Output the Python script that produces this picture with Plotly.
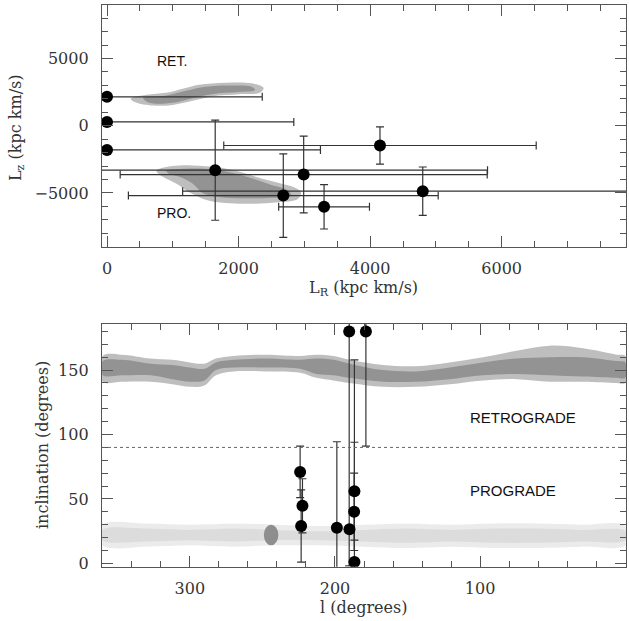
import plotly.graph_objects as go

# ---------------- top panel: (L_R, L_z) ----------------
sat_LR = [0, 0, 0, 1645, 2990, 2680, 4150, 4800, 3300]
sat_Lz = [2150, 280, -1800, -3310, -3630, -5195, -1470, -4870, -6030]
sat_LR_err = [2360, 2840, 3245, 4140, 2790, 2355, 2375, 3650, 690]
sat_Lz_err = [0, 0, 0, 3720, 2850, 3105, 1380, 1800, 1650]

# simulated debris clouds (outlines)
ret_halo_LR = [360, 600, 900, 1150, 1400, 1800, 2200, 2380, 2320, 2000, 1600, 1300, 1000, 700, 430]
ret_halo_Lz = [2000, 2300, 2450, 2750, 3050, 3200, 3150, 2800, 2450, 2350, 2200, 1850, 1550, 1500, 1750]
ret_core_LR = [550, 900, 1200, 1500, 1900, 2200, 2250, 2000, 1600, 1300, 1000, 650]
ret_core_Lz = [2050, 2250, 2600, 2900, 3000, 2900, 2650, 2500, 2350, 2050, 1700, 1700]

pro_halo_LR = [750, 1000, 1300, 1700, 2000, 2300, 2600, 2850, 2950, 2900, 2600, 2200, 1800, 1500, 1250, 1050, 850]
pro_halo_Lz = [-3350, -3000, -2950, -3100, -3400, -3850, -4250, -4600, -4950, -5450, -5700, -5800, -5750, -5500, -4950, -4300, -3800]
pro_core_LR = [900, 1200, 1600, 1900, 2200, 2500, 2750, 2800, 2500, 2100, 1700, 1450, 1300, 1100, 950]
pro_core_Lz = [-3350, -3200, -3250, -3500, -3900, -4400, -4800, -5200, -5350, -5400, -5300, -5000, -4300, -3800, -3600]

# ---------------- bottom panel: (l, inclination) ----------------
obj_l = [224.0, 222.4, 223.3, 198.7, 190.0, 186.6, 186.8, 186.6, 190.2, 178.7]
obj_inc = [71, 44.7, 29, 27.6, 26.5, 56, 40, 1, 180, 180]
obj_inc_err = [20, 21, 28, 66.8, 0, 38, 30, 157, 182, 89]

band_l = [360, 347, 327, 312, 300, 290, 282, 270, 247, 224, 213, 201, 190, 167, 144, 121, 98, 75, 52, 29, 6, 0]
band_core_hi = [157, 158, 155, 154, 152, 151, 156, 158, 159, 158, 159, 158, 155, 150, 149, 152, 156, 159, 160, 160, 157, 156]
band_core_lo = [146, 146, 146, 143, 141, 142, 150, 152, 152, 151, 147, 146, 144, 141, 141, 143, 146, 147, 146, 145, 144, 144]
band_halo_hi = [161, 162, 159, 158, 156, 155, 159, 161, 162, 161, 162, 161, 158, 154, 153, 156, 160, 165, 169, 167, 162, 161]
band_halo_lo = [141, 141, 141, 139, 137, 138, 146, 149, 149, 148, 144, 142, 140, 137, 137, 139, 142, 143, 141, 141, 140, 140]

low_l = [360, 330, 300, 270, 240, 210, 180, 150, 120, 90, 60, 30, 0]
low_hi = [30, 31, 30, 31, 30, 29, 30, 31, 30, 31, 31, 30, 29]
low_lo = [14, 13, 14, 13, 14, 14, 13, 12, 13, 12, 12, 13, 14]
low_core_hi = [26, 27, 26, 27, 26, 25, 26, 27, 26, 27, 27, 26, 25]
low_core_lo = [18, 17, 18, 17, 18, 18, 17, 16, 17, 16, 16, 17, 18]

blob_l = [239, 249]
blob_inc = [14, 30]
prograde_limit = 90

# ---------------- styling ----------------
HALO = "#bebebe"
CORE = "#939393"
LOW_HALO = "#ebebeb"
LOW_CORE = "#dcdcdc"
ERRC = "#333333"
AXC = "#555555"
SERIF = "DejaVu Serif"
SANS = "Liberation Sans"

fig = go.Figure()


def poly(xs, ys, color, xa, ya):
    fig.add_trace(go.Scatter(x=list(xs) + [xs[0]], y=list(ys) + [ys[0]], mode="lines",
                             fill="toself", fillcolor=color, line=dict(width=0, shape="spline"),
                             hoverinfo="skip", showlegend=False, xaxis=xa, yaxis=ya))


def band(ls, hi, lo, color):
    poly(list(ls) + list(ls)[::-1], list(hi) + list(lo)[::-1], color, "x2", "y2")


# top clouds
poly(ret_halo_LR, ret_halo_Lz, HALO, "x", "y")
poly(ret_core_LR, ret_core_Lz, CORE, "x", "y")
poly(pro_halo_LR, pro_halo_Lz, HALO, "x", "y")
poly(pro_core_LR, pro_core_Lz, CORE, "x", "y")

fig.add_trace(go.Scatter(
    x=sat_LR, y=sat_Lz, mode="markers",
    marker=dict(color="black", size=12),
    error_x=dict(type="data", array=sat_LR_err, color=ERRC, thickness=1.2, width=4),
    error_y=dict(type="data", array=sat_Lz_err, color=ERRC, thickness=1.2, width=4),
    showlegend=False, xaxis="x", yaxis="y"))

# bottom bands
band(low_l, low_hi, low_lo, LOW_HALO)
band(low_l, low_core_hi, low_core_lo, LOW_CORE)
band(band_l, band_halo_hi, band_halo_lo, HALO)
band(band_l, band_core_hi, band_core_lo, CORE)

fig.add_shape(type="circle", xref="x2", yref="y2",
              x0=blob_l[0], x1=blob_l[1], y0=blob_inc[0], y1=blob_inc[1],
              fillcolor="#8e8e8e", line=dict(width=0), layer="above")
fig.add_shape(type="line", xref="x2 domain", yref="y2", x0=0, x1=1,
              y0=prograde_limit, y1=prograde_limit,
              line=dict(color="#666", width=1, dash="dot"))

fig.add_trace(go.Scatter(
    x=obj_l, y=obj_inc, mode="markers",
    marker=dict(color="black", size=12),
    error_y=dict(type="data", array=obj_inc_err, color=ERRC, thickness=1.2, width=4),
    showlegend=False, xaxis="x2", yaxis="y2"))

tickfont = dict(family=SERIF, size=16, color="#333")


def axis(domain, rng, tickvals, minor_dtick, anchor, standoff):
    return dict(domain=domain, range=rng, tickvals=tickvals, ticks="inside", ticklen=11,
                tickwidth=1.3, tickcolor=AXC, showline=True, linecolor=AXC, linewidth=1.3,
                mirror="allticks", showgrid=False, zeroline=False, tickfont=tickfont,
                anchor=anchor, automargin=False, ticklabelstandoff=standoff,
                minor=dict(ticks="inside", dtick=minor_dtick, tick0=0, ticklen=6,
                           tickwidth=1.1, tickcolor=AXC, showgrid=False))


XD = [102 / 629, 626 / 629]
fig.update_layout(
    width=629, height=621, margin=dict(l=0, r=0, t=0, b=0),
    paper_bgcolor="white", plot_bgcolor="white", showlegend=False,
    xaxis=axis(XD, [-76, 7890], [0, 2000, 4000, 6000], 500, "y", 7),
    yaxis=axis([0.6027, 0.9924], [-9000, 9000], [-5000, 0, 5000], 1000, "x", 9),
    xaxis2=axis(XD, [360.5, -0.5], [300, 200, 100, 0], 20, "y2", 7),
    yaxis2=axis([0.0874, 0.4783], [-2.6, 185.8], [0, 50, 100, 150], 10, "x2", 9),
)


def px(xp, yp):
    return xp / 629, 1 - yp / 621


titles = [
    ("L<sub>z</sub> (kpc km/s)", 16, 128, -90),
    ("L<sub>R</sub> (kpc km/s)", 363, 288, 0),
    ("inclination (degrees)", 42, 445, -90),
    ("l (degrees)", 363, 607, 0),
]
for text, xp, yp, ang in titles:
    xx, yy = px(xp, yp)
    fig.add_annotation(text=text, x=xx, y=yy, xref="paper", yref="paper",
                       showarrow=False, textangle=ang, xanchor="center", yanchor="middle",
                       font=dict(family=SERIF, size=16, color="#333"))

labfont = dict(family=SANS, size=14, color="#111")
fig.add_annotation(text="RET.", x=731, y=4800, xref="x", yref="y", showarrow=False,
                   xanchor="left", yanchor="middle", font=labfont)
fig.add_annotation(text="PRO.", x=731, y=-6480, xref="x", yref="y", showarrow=False,
                   xanchor="left", yanchor="middle", font=labfont)
fig.add_annotation(text="RETROGRADE", x=108.3, y=113.4, xref="x2", yref="y2", showarrow=False,
                   xanchor="left", yanchor="middle", font=dict(family=SANS, size=15, color="#111"))
fig.add_annotation(text="PROGRADE", x=108.3, y=56.9, xref="x2", yref="y2", showarrow=False,
                   xanchor="left", yanchor="middle", font=dict(family=SANS, size=15, color="#111"))

fig.write_html("out.html")
